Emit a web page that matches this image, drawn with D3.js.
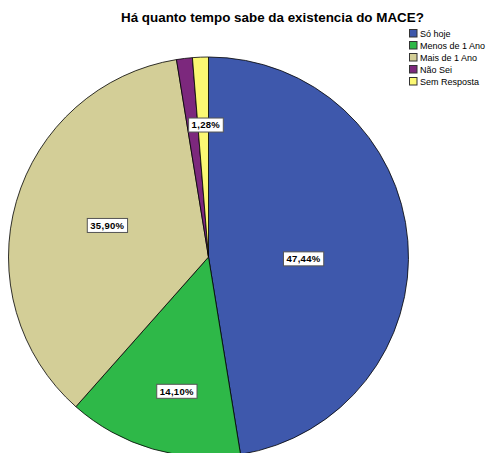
<!DOCTYPE html>
<html><head><meta charset="utf-8">
<script src="https://cdn.jsdelivr.net/npm/d3@7"></script>
<style>body{margin:0;background:#fff}svg{display:block}</style>
</head><body>
<svg id="c" width="487" height="453"></svg>
<script>
const categories = ["Só hoje", "Menos de 1 Ano", "Mais de 1 Ano", "Não Sei", "Sem Resposta"];
const values = [47.44, 14.10, 35.90, 1.28, 1.28];
const labelTexts = ["47,44%", "14,10%", "35,90%", "", "1,28%"];
const colors = ["#3e58ac", "#2eb848", "#d3ce97", "#7c287d", "#fbf873"];
const titleText = "Há quanto tempo sabe da existencia do MACE?";

const svg = d3.select("#c");
const cx = 208.5, cy = 257, R = 200;
const font = "'Liberation Sans', Arial, sans-serif";

svg.append("text").attr("x", 121).attr("y", 22)
  .attr("font-family", font).attr("font-weight", "bold").attr("font-size", 13.4)
  .text(titleText);

const pie = d3.pie().sort(null).value(d => d)(values);
const arc = d3.arc().innerRadius(0).outerRadius(R);
const g = svg.append("g").attr("transform", `translate(${cx},${cy})`);
g.selectAll("path").data(pie).join("path")
  .attr("d", arc).attr("fill", (d, i) => colors[i])
  .attr("stroke", "#000").attr("stroke-width", 0.8);

const labelRadius = [0.475, 0.69, 0.53, 0.66, 0.66];
const angleShift = [0.1, -0.05, 0.02, 0, 0.02];
pie.forEach((d, i) => {
  if (!labelTexts[i]) return;
  const a = (d.startAngle + d.endAngle) / 2 + angleShift[i];
  const r = R * labelRadius[i];
  const x = r * Math.sin(a), y = -r * Math.cos(a);
  const lg = g.append("g").attr("transform", `translate(${x},${y})`);
  const t = lg.append("text").attr("text-anchor", "middle").attr("dy", "0.35em")
    .attr("font-family", font).attr("font-weight", "bold").attr("font-size", 9.5)
    .attr("letter-spacing", 0.3)
    .text(labelTexts[i]);
  const bb = t.node().getBBox();
  lg.insert("rect", "text").attr("x", bb.x - 3).attr("y", -7).attr("width", bb.width + 6).attr("height", 14)
    .attr("fill", "#fff").attr("stroke", "#555").attr("stroke-width", 1);
});

const leg = svg.append("g").attr("transform", "translate(409,29)");
categories.forEach((c, i) => {
  const row = leg.append("g").attr("transform", `translate(0,${i * 12})`);
  row.append("rect").attr("x", 0.5).attr("y", 0.5).attr("width", 7.5).attr("height", 7.5)
    .attr("fill", colors[i]).attr("stroke", "#333").attr("stroke-width", 1);
  row.append("text").attr("x", 11).attr("y", 8).attr("font-family", font).attr("font-size", 9)
    .attr("fill", "#000").text(c);
});
</script>
</body></html>
